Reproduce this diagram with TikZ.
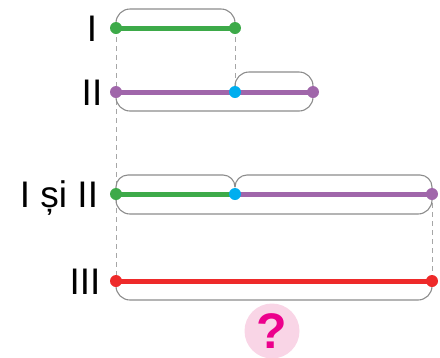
\documentclass[tikz,border=0pt]{standalone}
\usepackage{fontspec}
\setmainfont{Liberation Sans}
\usepackage{tikz}
\usetikzlibrary{calc,positioning}
\definecolor{segI}{HTML}{3DAA49}
\definecolor{segII}{HTML}{A066AA}
\definecolor{segIII}{HTML}{EE2A2A}
\definecolor{joint}{HTML}{00AEEF}
\definecolor{qpink}{HTML}{F9D5E6}
\definecolor{qmag}{HTML}{EC008C}
\tikzstyle{dot} = [circle,inner sep=0pt,minimum size=12pt]
\tikzstyle{seg} = [line width=5pt]
\tikzstyle{guide} = [draw=black!35,line width=0.9pt,dash pattern=on 5pt off 4pt]
\tikzstyle{arcline} = [draw=black!45,line width=1.1pt,rounded corners=14pt]
\tikzstyle{lbl} = [anchor=base,font=\fontsize{37}{40}\selectfont,inner sep=0pt]

\begin{document}
\begin{tikzpicture}[x=1pt,y=-1pt]
        \useasboundingbox (0,0) rectangle (440,357);
        \coordinate (a1) at (116,28); \coordinate (a2) at (235,28);
        \coordinate (b1) at (116,92); \coordinate (b2) at (235,92); \coordinate (b3) at (313,92);
        \coordinate (c1) at (116,194); \coordinate (c2) at (235,194); \coordinate (c3) at (432,194);
        \coordinate (d1) at (116,281); \coordinate (d2) at (432,281);

        \draw[guide] (a1) to (d1) (a2) to (b2) (c3) to (d2);

        % arcs above
        \draw[arcline] (a1) -- ++(0,-19) -| (a2);
        \draw[arcline] (b2) -- ++(0,-20) -| (b3);
        \draw[arcline,rounded corners=12pt] (c1) -- ++(0,-19) -| ($(c2)+(0,-8)$);
        \draw[arcline,rounded corners=12pt] (c3) -- ++(0,-19) -| ($(c2)+(0,-8)$);
        % arcs below
        \draw[arcline] (b1) -- ++(0,19) -| (b3);
        \draw[arcline] (c1) -- ++(0,20) -| (c3);
        \draw[arcline] (d1) -- ++(0,19) -| (d2);

        \draw[seg,segI] (a1) to (a2);
        \draw[seg,segII] (b1) to (b3);
        \draw[seg,segI] (c1) to (c2);
        \draw[seg,segII] (c2) to (c3);
        \draw[seg,segIII] (d1) to (d2);

        \node[dot,fill=segI] (p1) at (a1) {};
        \node[dot,fill=segI] (p2) at (a2) {};
        \node[dot,fill=segII] (p3) at (b1) {};
        \node[dot,fill=joint] (p4) at (b2) {};
        \node[dot,fill=segII] (p5) at (b3) {};
        \node[dot,fill=segI] (p6) at (c1) {};
        \node[dot,fill=joint] (p7) at (c2) {};
        \node[dot,fill=segII] (p8) at (c3) {};
        \node[dot,fill=segIII] (p9) at (d1) {};
        \node[dot,fill=segIII] (p10) at (d2) {};

        \node[lbl] (l1) at (92,41) {I};
        \node[lbl] (l2) at (92,105) {II};
        \node[lbl] (l3) at (59,207) {I și II};
        \node[lbl] (l4) at (85,294) {III};

        \node[circle,fill=qpink,minimum size=55pt,inner sep=0pt,text=qmag,
              font=\bfseries\fontsize{50}{50}\selectfont] (q) at (272,331) {?};
\end{tikzpicture}
\end{document}
